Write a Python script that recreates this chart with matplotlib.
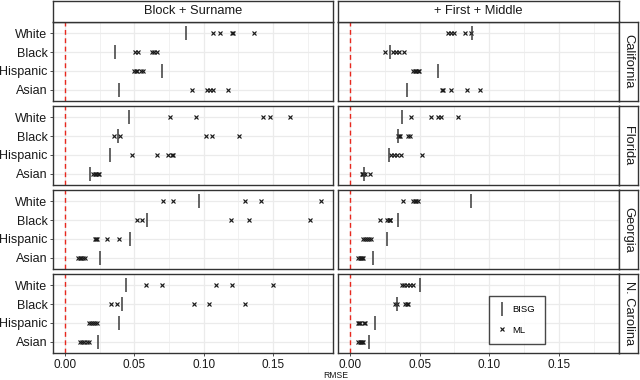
import matplotlib
matplotlib.use("Agg")
import matplotlib.pyplot as plt
from matplotlib.lines import Line2D
import numpy as np

plt.rcParams['font.family'] = ['Liberation Sans', 'DejaVu Sans']

races = ["White", "Black", "Hispanic", "Asian"]
states = ["California", "Florida", "Georgia", "N. Carolina"]
models = ["Block + Surname", "+ First + Middle"]

# BISG RMSE per state, order of races
bisg_surname = [
    [0.0875, 0.0363, 0.0702, 0.0392],
    [0.0459, 0.0385, 0.0322, 0.0180],
    [0.0969, 0.0592, 0.0466, 0.0255],
    [0.0442, 0.0413, 0.0390, 0.0240],
]
bisg_first = [
    [0.0878, 0.0288, 0.0635, 0.0412],
    [0.0374, 0.0347, 0.0283, 0.0098],
    [0.0870, 0.0343, 0.0264, 0.0168],
    [0.0506, 0.0340, 0.0177, 0.0139],
]

# ML RMSE (several methods) per state, per race
ml_surname = [
    [[0.107, 0.112, 0.1205, 0.1215, 0.1366],
     [0.0507, 0.0527, 0.0626, 0.0644, 0.0664],
     [0.0500, 0.0510, 0.0520, 0.0550, 0.0560],
     [0.0918, 0.1024, 0.1043, 0.1065, 0.1173]],
    [[0.0755, 0.0945, 0.1429, 0.1476, 0.1626],
     [0.0356, 0.0394, 0.1017, 0.1061, 0.1255],
     [0.0483, 0.0664, 0.0740, 0.0775, 0.0779],
     [0.0205, 0.0215, 0.0225, 0.0235, 0.0245]],
    [[0.0707, 0.0779, 0.1301, 0.1411, 0.1847],
     [0.0519, 0.0556, 0.1198, 0.1325, 0.1770],
     [0.0215, 0.0225, 0.0231, 0.0305, 0.0390],
     [0.0094, 0.0105, 0.0115, 0.0127, 0.0146]],
    [[0.0582, 0.0697, 0.1089, 0.1207, 0.1500],
     [0.0334, 0.0377, 0.0928, 0.1041, 0.1296],
     [0.0170, 0.0185, 0.0200, 0.0215, 0.0231],
     [0.0110, 0.0125, 0.0140, 0.0155, 0.0170]],
]
ml_first = [
    [[0.0707, 0.0727, 0.0745, 0.0827, 0.0870],
     [0.0252, 0.0311, 0.0331, 0.0350, 0.0390],
     [0.0455, 0.0465, 0.0475, 0.0485, 0.0494],
     [0.0664, 0.0670, 0.0727, 0.0839, 0.0935]],
    [[0.0439, 0.0585, 0.0630, 0.0655, 0.0774],
     [0.0345, 0.0352, 0.0360, 0.0415, 0.0434],
     [0.0295, 0.0315, 0.0335, 0.0367, 0.0518],
     [0.0085, 0.0090, 0.0095, 0.0105, 0.0144]],
    [[0.0379, 0.0455, 0.0465, 0.0475, 0.0491],
     [0.0216, 0.0268, 0.0278, 0.0288, 0.0290],
     [0.0091, 0.0106, 0.0121, 0.0136, 0.0151],
     [0.0060, 0.0070, 0.0078, 0.0085, 0.0091]],
    [[0.0371, 0.0390, 0.0410, 0.0430, 0.0450],
     [0.0326, 0.0335, 0.0398, 0.0406, 0.0414],
     [0.0058, 0.0065, 0.0072, 0.0098, 0.0105],
     [0.0060, 0.0070, 0.0078, 0.0085, 0.0091]],
]

W, H = 640, 380
fig = plt.figure(figsize=(6.4, 3.8), dpi=100)


def px(x0, y0, x1, y1):
    return [x0 / W, 1 - y1 / H, (x1 - x0) / W, (y1 - y0) / H]


border = '#333333'
cols = [(53, 333), (338, 619)]
rows = [(22, 101), (106, 185), (190, 269), (274, 353)]
ypos = np.array([4, 3, 2, 1])

bisg_all = [bisg_surname, bisg_first]
ml_all = [ml_surname, ml_first]

axes = {}
for r, (y0, y1) in enumerate(rows):
    for c, (x0, x1) in enumerate(cols):
        ax = fig.add_axes(px(x0, y0, x1, y1))
        axes[(r, c)] = ax
        ax.set_xlim(-0.0087, 0.1933)
        ax.set_ylim(0.4, 4.6)
        ax.set_xticks([0, 0.05, 0.10, 0.15])
        ax.set_xticks([0.025, 0.075, 0.125, 0.175], minor=True)
        ax.set_yticks(ypos)
        ax.grid(True, which='major', color='#ebebeb', lw=0.9, zorder=0)
        ax.grid(True, which='minor', axis='x', color='#ebebeb', lw=0.5, zorder=0)
        ax.set_axisbelow(True)
        for s in ax.spines.values():
            s.set_color(border)
            s.set_linewidth(1.0)
        ax.tick_params(which='minor', length=0)
        ax.tick_params(which='major', length=2.5, width=0.6, color=border,
                       labelsize=9, pad=1.5, labelcolor='#1a1a1a')
        if c == 0:
            ax.set_yticklabels(races)
        else:
            ax.tick_params(axis='y', length=0, labelleft=False)
        if r == 3:
            ax.set_xticklabels(['0.00', '0.05', '0.10', '0.15'])
            ax.tick_params(axis='x', labelsize=8.5, pad=2)
        else:
            ax.tick_params(axis='x', length=0, labelbottom=False)

        ax.axvline(0, color='#e8281e', lw=1.0, ls=(0, (3.5, 2.5)), zorder=1)
        ml = ml_all[c][r]
        for i in range(4):
            ax.plot(ml[i], [ypos[i]] * len(ml[i]), ls='none', marker='x',
                    ms=3.3, mew=0.85, color='#1a1a1a', zorder=3)
        ax.plot(bisg_all[c][r], ypos, ls='none', marker='|', ms=9.5,
                mew=1.1, color='#3a3a3a', zorder=4)

# top strips
for c, (x0, x1) in enumerate(cols):
    sa = fig.add_axes(px(x0, 1, x1, 22))
    sa.set_xticks([]); sa.set_yticks([])
    for s in sa.spines.values():
        s.set_color(border); s.set_linewidth(1.0)
    sa.text(0.5, 0.5, models[c], ha='center', va='center', fontsize=9.3,
            color='#1a1a1a', transform=sa.transAxes)

# right strips
for r, (y0, y1) in enumerate(rows):
    sa = fig.add_axes(px(619, y0, 638, y1))
    sa.set_xticks([]); sa.set_yticks([])
    for s in sa.spines.values():
        s.set_color(border); s.set_linewidth(1.0)
    sa.text(0.5, 0.5, states[r], ha='center', va='center', fontsize=9.3,
            rotation=-90, color='#1a1a1a', transform=sa.transAxes)

fig.text(336 / W, 1 - 376 / H, 'RMSE', ha='center', va='center', fontsize=6.2,
         color='#1a1a1a')

handles = [Line2D([], [], ls='none', marker='|', ms=9.5, mew=1.1, color='#3a3a3a'),
           Line2D([], [], ls='none', marker='x', ms=3.3, mew=0.85, color='#1a1a1a')]
leg = axes[(3, 1)].legend(handles, ['BISG', 'ML'], loc='center',
                          bbox_to_anchor=(0.637, 0.418), fontsize=6.8,
                          frameon=True, fancybox=False, handlelength=0.8,
                          handletextpad=0.7, borderpad=1.0, labelspacing=1.2,
                          borderaxespad=0)
leg.get_frame().set_edgecolor('#1a1a1a')
leg.get_frame().set_linewidth(1.0)

fig.savefig('out.png', dpi=100)
